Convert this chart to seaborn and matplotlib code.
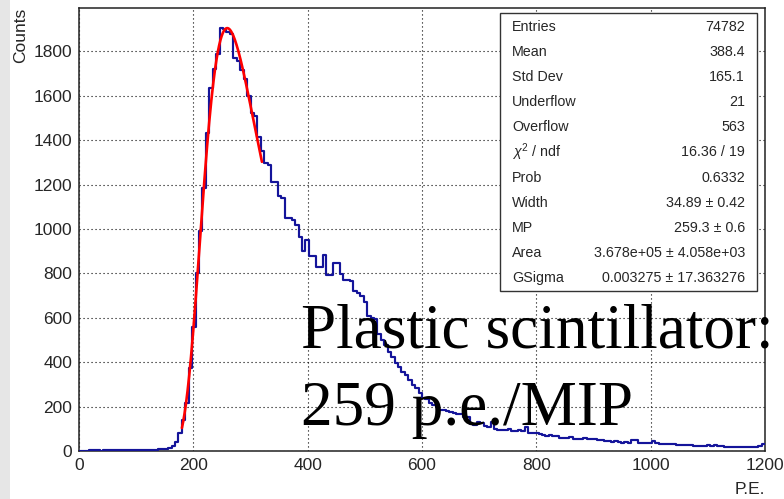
import numpy as np
import pandas as pd
import matplotlib
matplotlib.use("Agg")
import matplotlib.pyplot as plt
from matplotlib.ticker import MultipleLocator
from matplotlib.patches import Rectangle
import seaborn as sns

# ---------------- data ----------------
x_min, x_max, n_bins = 0, 1200, 200

counts_low = [2, 2, 2, 3, 3, 3, 2, 3, 4, 4, 5, 4, 3, 5, 4, 5, 6, 4, 5, 4, 6, 5, 6, 7, 8]
counts_rise = [10, 14, 22, 42, 80, 140, 215, 373, 560, 801, 989, 1185, 1433, 1636, 1722, 1786]
counts_peak = [1903, 1900, 1888, 1878, 1771, 1756, 1718, 1676, 1598, 1523, 1508]
counts_fall = [1415, 1350, 1298, 1290, 1212, 1210, 1147, 1140, 1050, 1048, 1040, 1019,
               964, 899, 950, 880, 880, 827, 827, 883, 791, 791, 846, 846, 795, 771,
               768, 765, 719, 712, 696, 673, 610]
counts_knee = [600, 595, 525, 500, 478, 445, 422, 397, 380, 358, 342, 320, 298, 282, 262]
counts_tail1 = [240, 236, 214, 205, 199, 186, 184, 182, 177, 170,
                168, 166, 155, 152, 122, 117, 130, 125, 112, 106,
                130, 98, 96, 95, 93, 97, 92, 90, 94, 88,
                110, 82, 80, 79, 78, 70, 68, 72, 67, 66]
counts_tail2 = [60, 58, 57, 61, 56, 55, 54, 58, 53, 52,
                53, 51, 48, 47, 44, 42, 43, 40, 38, 39,
                37, 50, 48, 38, 37, 36, 38, 45, 34, 32,
                31, 32, 30, 31, 29, 27, 28, 26, 27, 23,
                22, 23, 21, 25, 24, 26, 23, 21, 20, 19,
                20, 18, 17, 16, 18, 17, 20, 19, 21, 30]
counts = counts_low + counts_rise + counts_peak + counts_fall + counts_knee + counts_tail1 + counts_tail2

# fit parameters shown in the stats box (Landau x Gauss, GSigma ~ 0)
fit_width = 34.89
fit_mp = 259.3
fit_area = 3.678e5
fit_range = (180, 320)

stats_labels = ["Entries", "Mean", "Std Dev", "Underflow", "Overflow", r"$\chi^{2}$ / ndf",
                "Prob", "Width", "MP", "Area", "GSigma"]
stats_values = ["74782", "388.4", "165.1", "21", "563", "16.36 / 19", "0.6332",
                "34.89 ± 0.42", "259.3 ± 0.6", "3.678e+05 ± 4.058e+03",
                "0.003275 ± 17.363276"]

x_ticks = [0, 200, 400, 600, 800, 1000, 1200]
y_ticks = [0, 200, 400, 600, 800, 1000, 1200, 1400, 1600, 1800]


def landau_pdf(lam):
    t = np.linspace(1e-9, 45, 45001)
    out = np.empty_like(lam)
    base = np.exp(-t * np.log(t)) * np.sin(np.pi * t)
    for i, l in enumerate(lam):
        out[i] = np.trapezoid(base * np.exp(-l * t), t) / np.pi
    return out


# ---------------- figure ----------------
sns.set_style("white")
plt.rcParams["font.family"] = ["Liberation Sans", "DejaVu Sans"]
plt.rcParams["mathtext.fontset"] = "custom"
plt.rcParams["mathtext.rm"] = "Liberation Sans"
plt.rcParams["mathtext.it"] = "Liberation Sans:italic"

W, H = 784, 499
fig = plt.figure(figsize=(W / 100, H / 100), dpi=100)
fig.patch.set_facecolor("white")
fig.add_artist(Rectangle((0, 0), 10 / W, 1, transform=fig.transFigure,
                         facecolor="#e6e6e6", edgecolor="none", zorder=0))

L, R, T, B = 79, 765, 8, 451
ax = fig.add_axes([L / W, 1 - B / H, (R - L) / W, (B - T) / H])

bin_w = (x_max - x_min) / n_bins
centers = x_min + bin_w * (np.arange(n_bins) + 0.5)
df = pd.DataFrame({"PE": centers, "Counts": np.asarray(counts, dtype=float)})
sns.histplot(data=df, x="PE", weights="Counts", binwidth=bin_w, binrange=(x_min, x_max),
             element="step", fill=False, color="#14149a", linewidth=1.55, ax=ax, zorder=3)

xf = np.linspace(fit_range[0], fit_range[1], 300)
mpc = fit_mp + 0.22278298 * fit_width
yf = fit_area * landau_pdf((xf - mpc) / fit_width) / fit_width
sns.lineplot(x=xf, y=yf, color="#ff0000", linewidth=1.9, estimator=None, ax=ax, zorder=4)

ax.set_xlim(x_min, x_max)
ax.set_ylim(0, 1995)
ax.set_xticks(x_ticks)
ax.set_yticks(y_ticks)
ax.xaxis.set_minor_locator(MultipleLocator(50))
ax.yaxis.set_minor_locator(MultipleLocator(40))
ax.tick_params(axis="x", which="major", direction="in", length=7.7, width=1,
               labelsize=12.5, pad=5, top=False, color="#222222")
ax.tick_params(axis="x", which="minor", direction="in", length=3.8, width=1, top=False,
               color="#222222")
ax.tick_params(axis="y", which="major", direction="in", length=14.5, width=1,
               labelsize=12.5, pad=5, right=False, color="#222222")
ax.tick_params(axis="y", which="minor", direction="in", length=7.2, width=1, right=False,
               color="#222222")
ax.set_xlabel("")
ax.set_ylabel("")
ax.grid(True, which="major", color="black", linestyle=(0, (1, 2.6)), linewidth=0.8)
ax.set_axisbelow(True)
for s in ax.spines.values():
    s.set_visible(True)
    s.set_color("#222222")
    s.set_linewidth(1.1)

fig.text(21 / W, 1 - 8 / H, "Counts", rotation=90, ha="center", va="top", fontsize=12.5)
fig.text(765 / W, 1 - 490 / H, "P.E.", ha="right", va="center", fontsize=12.5)

# stats box
bx0, by0, bx1, by1 = 500, 13, 757, 291
fig.add_artist(Rectangle((bx0 / W, 1 - by1 / H), (bx1 - bx0) / W, (by1 - by0) / H,
                         transform=fig.transFigure, facecolor="white",
                         edgecolor="#333333", linewidth=1.0, zorder=5))
for i, (lab, val) in enumerate(zip(stats_labels, stats_values)):
    yy = 27 + i * 25.1
    fig.text(512 / W, 1 - yy / H, lab, ha="left", va="center", fontsize=10.3, zorder=6)
    fig.text(745 / W, 1 - yy / H, val, ha="right", va="center", fontsize=10.3, zorder=6)

# annotation
fig.text(301 / W, 1 - 348 / H, "Plastic scintillator:", ha="left", va="baseline",
         fontsize=45.5, family="Liberation Serif", color="black", zorder=7)
fig.text(301 / W, 1 - 425 / H, "259 p.e./MIP", ha="left", va="baseline",
         fontsize=45.5, family="Liberation Serif", color="black", zorder=7)

fig.savefig("out.png", dpi=100)
